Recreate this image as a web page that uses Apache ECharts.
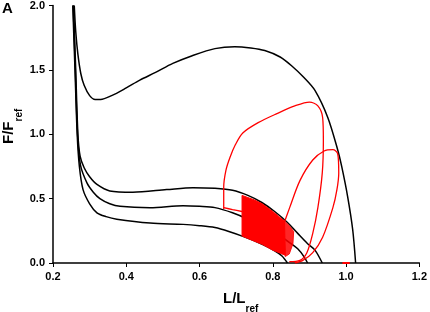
<!DOCTYPE html>
<html>
<head>
<meta charset="utf-8">
<script src="https://cdn.jsdelivr.net/npm/echarts@6/dist/echarts.min.js"></script>
<style>
  html, body { margin: 0; padding: 0; background: #fff; }
  #chart { width: 430px; height: 312px; }
</style>
</head>
<body>
<div id="chart"></div>
<script>
// black force-length curves
const curveTop = [[0.258,2.0],[0.262,1.8],[0.268,1.62],[0.276,1.47],[0.285,1.38],[0.30,1.30],[0.315,1.27],[0.33,1.27],[0.36,1.30],[0.40,1.36],[0.437,1.42],[0.48,1.48],[0.527,1.55],[0.58,1.61],[0.642,1.665],[0.696,1.68],[0.74,1.67],[0.778,1.65],[0.82,1.60],[0.852,1.53],[0.885,1.44],[0.915,1.34],[0.95,1.13],[0.977,0.88],[0.988,0.75],[1.004,0.52],[1.018,0.26],[1.026,0]];
const curveB = [[0.256,2.0],[0.262,1.5],[0.268,1.0],[0.274,0.83],[0.285,0.74],[0.30,0.67],[0.32,0.61],[0.355,0.56],[0.418,0.55],[0.51,0.57],[0.582,0.585],[0.642,0.58],[0.69,0.565],[0.732,0.525],[0.77,0.47],[0.805,0.40],[0.84,0.315],[0.868,0.23],[0.895,0.15],[0.915,0.10],[0.935,0]];
const curveC = [[0.255,2.0],[0.261,1.5],[0.267,1.0],[0.275,0.76],[0.293,0.62],[0.31,0.55],[0.328,0.50],[0.355,0.46],[0.383,0.44],[0.465,0.43],[0.555,0.445],[0.60,0.44],[0.642,0.43],[0.69,0.39],[0.732,0.34],[0.78,0.27],[0.825,0.20],[0.85,0.15],[0.868,0.11],[0.885,0.05],[0.895,0]];
const curveD = [[0.254,2.0],[0.26,1.5],[0.266,1.0],[0.272,0.75],[0.282,0.57],[0.30,0.46],[0.32,0.39],[0.345,0.36],[0.374,0.34],[0.465,0.31],[0.555,0.30],[0.60,0.29],[0.642,0.275],[0.68,0.245],[0.72,0.205],[0.771,0.145],[0.805,0.095],[0.825,0.055],[0.84,0]];

// red loops
const loopBig = [[0.666,0.42],[0.666,0.59],[0.672,0.72],[0.683,0.82],[0.698,0.92],[0.718,1.01],[0.76,1.09],[0.811,1.16],[0.86,1.22],[0.90,1.25],[0.923,1.22],[0.936,1.13],[0.938,0.95],[0.935,0.70],[0.923,0.43],[0.909,0.23],[0.893,0.08],[0.874,0.02],[0.845,0.01]];
const loopSmall = [[0.827,0.28],[0.846,0.43],[0.874,0.64],[0.909,0.80],[0.94,0.87],[0.964,0.88],[0.977,0.85],[0.98,0.70],[0.975,0.57],[0.964,0.43],[0.936,0.20],[0.909,0.08],[0.882,0.02],[0.86,0.0]];
const linkLeft = [[0.666,0.43],[0.69,0.415],[0.716,0.40]];
const axisMark = [[0.99,0.0],[1.01,0.0]];
const bandMain = [[0.716,0.525],[0.75,0.49],[0.771,0.46],[0.80,0.40],[0.832,0.325],[0.833,0.20],[0.834,0.06],[0.817,0.08],[0.80,0.10],[0.771,0.145],[0.745,0.175],[0.716,0.21]];
const bandSide = [[0.83,0.33],[0.845,0.29],[0.857,0.245],[0.855,0.15],[0.845,0.07],[0.834,0.05]];

const xTicks = [0.2, 0.4, 0.6, 0.8, 1.0, 1.2];
const yTicks = [0.0, 0.5, 1.0, 1.5, 2.0];

const FONT = '"Liberation Sans", Arial, sans-serif';
const RED = '#ff0000';

function polygonSeries(points, opacity) {
  return {
    type: 'custom',
    data: [0],
    silent: true,
    z: 4,
    renderItem: function (params, api) {
      return {
        type: 'polygon',
        shape: { points: points.map(function (p) { return api.coord(p); }) },
        style: { fill: RED, stroke: RED, lineWidth: 1, opacity: opacity }
      };
    }
  };
}

function lineSeries(data, color, width, z) {
  return {
    type: 'line',
    data: data,
    showSymbol: false,
    smooth: 0.3,
    silent: true,
    lineStyle: { color: color, width: width },
    z: z
  };
}

const axisName = {
  a: { fontFamily: FONT, fontWeight: 'bold', fontSize: 15, lineHeight: 15, verticalAlign: 'top', fill: '#000' },
  s: { fontFamily: FONT, fontWeight: 'bold', fontSize: 10, lineHeight: 23, verticalAlign: 'bottom', fill: '#000' }
};

let chart = echarts.init(document.getElementById('chart'));
let options = {
  animation: false,
  grid: { left: 53, right: 9, top: 5, bottom: 49 },
  xAxis: {
    type: 'value',
    min: xTicks[0],
    max: xTicks[xTicks.length - 1],
    interval: 0.2,
    splitLine: { show: false },
    axisLine: { onZero: false, lineStyle: { color: '#000', width: 1.5 } },
    axisTick: { length: 4, lineStyle: { color: '#000', width: 1 } },
    axisLabel: {
      margin: 8,
      color: '#000',
      fontFamily: FONT,
      fontWeight: 'bold',
      fontSize: 11,
      formatter: function (v) { return v.toFixed(1); }
    }
  },
  yAxis: {
    type: 'value',
    min: yTicks[0],
    max: yTicks[yTicks.length - 1],
    interval: 0.5,
    splitLine: { show: false },
    axisLine: { show: true, lineStyle: { color: '#000', width: 1.5 } },
    axisTick: { show: true, length: 4, lineStyle: { color: '#000', width: 1 } },
    axisLabel: {
      margin: 8,
      color: '#000',
      fontFamily: FONT,
      fontWeight: 'bold',
      fontSize: 11,
      formatter: function (v) { return v.toFixed(1); }
    }
  },
  graphic: [
    {
      type: 'text', left: 2, top: 1,
      style: { text: 'A', fontFamily: FONT, fontWeight: 'bold', fontSize: 15, fill: '#000' }
    },
    {
      type: 'text', x: 223, y: 291,
      style: { text: '{a|L/L}{s|ref}', rich: axisName }
    },
    {
      type: 'text', x: 1, y: 144, rotation: Math.PI / 2,
      style: { text: '{a|F/F}{s|ref}', rich: axisName }
    }
  ],
  series: [
    lineSeries(curveTop, '#000', 1.5, 2),
    lineSeries(curveB, '#000', 1.5, 2),
    lineSeries(curveC, '#000', 1.5, 2),
    lineSeries(curveD, '#000', 1.5, 2),
    polygonSeries(bandMain, 1),
    polygonSeries(bandSide, 0.85),
    lineSeries(loopBig, RED, 1.3, 5),
    lineSeries(loopSmall, RED, 1.3, 5),
    lineSeries(linkLeft, RED, 1.3, 5),
    lineSeries(axisMark, RED, 2, 5)
  ]
};
chart.setOption(options);
</script>
</body>
</html>
